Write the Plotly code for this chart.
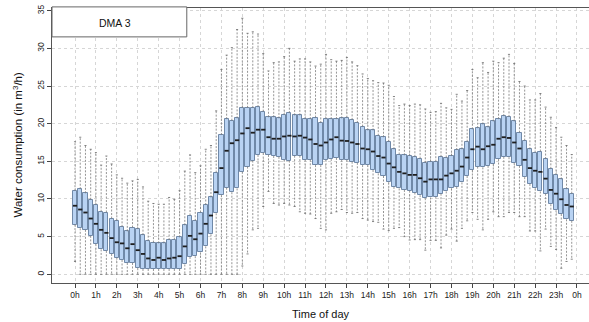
import numpy as np
import plotly.graph_objects as go

# Hour tick labels (0h .. 23h, 0h) and 15-minute slots
hour_labels = [f"{h}h" for h in range(24)] + ["0h"]

q3 = [11.1, 11.3, 10.75, 9.9, 9.2, 8.3, 8.2, 7.4, 7.1, 6.3, 5.7, 6.2, 6.0, 5.2, 4.4, 4.2,
      4.1, 4.1, 4.55, 4.6, 4.9, 6.5, 7.8, 7.1, 8.2, 9.2, 10.2, 13.5, 18.5, 20.6, 20.4, 20.7,
      22.1, 22.1, 22.1, 22.2, 21.6, 20.85, 20.85, 20.7, 21.15, 21.4, 21.1, 21.1, 20.6, 20.6, 20.8, 20.1,
      20.6, 20.6, 20.6, 20.7, 20.8, 20.5, 20.1, 19.6, 19.1, 19.1, 18.4, 18.2, 17.6, 16.6, 15.9, 15.8,
      15.7, 15.6, 15.35, 14.8, 14.95, 14.95, 15.6, 15.5, 15.7, 16.5, 16.6, 17.6, 19.25, 19.4, 19.9, 19.5,
      20.3, 20.6, 21.0, 20.9, 20.3, 18.8, 17.75, 16.6, 16.15, 16.3, 15.3, 14.0, 13.2, 12.6, 11.3, 10.7]
median = [9.1, 8.6, 8.2, 7.4, 6.7, 5.9, 5.5, 4.8, 4.25, 4.1, 3.45, 4.0, 3.2, 2.7, 2.1, 1.9,
          2.2, 1.9, 2.1, 2.2, 2.4, 3.7, 5.1, 4.65, 5.4, 6.7, 7.8, 10.9, 14.1, 16.4, 17.4, 17.8,
          18.7, 19.4, 18.8, 19.2, 19.2, 18.2, 18.0, 18.0, 18.3, 18.4, 18.3, 18.4, 18.15, 17.9, 17.3, 17.1,
          17.5, 17.9, 18.2, 17.75, 17.7, 17.5, 17.3, 16.7, 16.6, 16.3, 15.7, 15.5, 14.7, 14.2, 13.6, 13.4,
          13.2, 13.2, 12.75, 12.3, 12.6, 12.6, 12.6, 13.1, 13.4, 13.75, 14.3, 15.5, 16.6, 16.95, 16.6, 17.0,
          17.2, 18.0, 18.2, 18.1, 17.5, 16.7, 15.2, 14.1, 13.75, 13.6, 12.7, 11.2, 10.7, 9.96, 9.2, 9.0]
q1 = [6.6, 6.1, 5.9, 5.1, 4.0, 3.3, 3.1, 2.7, 2.2, 1.9, 1.5, 1.5, 0.8, 0.7, 0.7, 0.7,
      0.7, 0.7, 0.7, 0.7, 0.7, 1.3, 2.3, 2.4, 2.9, 3.7, 5.3, 8.1, 10.5, 11.5, 10.9, 11.4,
      13.6, 14.3, 15.1, 15.85, 16.1, 15.85, 15.7, 15.6, 15.2, 15.1, 15.75, 15.75, 15.2, 15.2, 14.5, 14.5,
      15.2, 15.3, 15.45, 15.2, 15.2, 14.95, 14.8, 14.5, 14.5, 13.85, 13.4, 13.05, 12.2, 11.6, 11.4, 11.2,
      11.1, 10.85, 10.5, 10.1, 10.2, 10.3, 10.7, 11.0, 11.4, 11.6, 12.2, 13.05, 13.85, 14.3, 14.2, 14.4,
      14.65, 15.3, 15.6, 15.55, 14.8, 14.4, 12.9, 12.0, 11.4, 11.0, 10.7, 9.3, 8.5, 8.0, 7.3, 7.1]
whisker_hi = [17.6, 18.2, 17.1, 16.6, 16.15, 14.5, 15.7, 14.65, 13.2, 12.75, 12.1, 12.4, 12.6, 11.6, 9.7, 9.4,
              9.3, 9.3, 10.2, 9.95, 11.1, 13.7, 15.85, 13.5, 14.4, 16.6, 17.1, 21.7, 27.2, 29.1, 30.1, 32.5,
              34.0, 32.0, 32.2, 31.9, 29.3, 27.0, 28.1, 28.2, 28.9, 30.0, 28.3, 28.6, 28.6, 28.2, 27.65, 27.9,
              29.2, 28.5, 28.3, 28.4, 28.8, 28.2, 27.7, 26.6, 26.0, 25.7, 25.45, 25.4, 25.1, 23.6, 22.4, 22.6,
              22.4, 22.6, 22.5, 21.95, 21.5, 21.6, 22.7, 22.1, 21.9, 23.9, 23.0, 24.4, 27.2, 26.1, 28.1, 26.8,
              28.3, 28.1, 28.7, 29.2, 28.0, 25.6, 25.0, 23.15, 23.15, 24.0, 22.2, 20.85, 19.5, 18.2, 17.1, 15.9]
whisker_lo = [1.7, 0, 0, 0, 0, 0, 0, 0, 0, 0, 0, 0, 0, 0, 0, 0,
              0, 0, 0, 0, 0, 0, 0, 0, 0, 0, 0, 0, 0, 0, 0, 0,
              1.1, 2.7, 5.9, 6.1, 9.0, 11.0, 9.4, 9.2, 9.4, 9.2, 9.0, 8.3, 8.1, 8.0, 7.4, 6.1,
              5.9, 8.1, 8.3, 8.6, 8.2, 8.1, 8.2, 7.4, 7.2, 7.0, 6.9, 6.0, 5.8, 6.1, 6.2, 5.0,
              4.55, 4.6, 4.6, 3.2, 4.5, 4.5, 3.5, 5.2, 6.0, 4.4, 6.1, 7.1, 8.2, 7.3, 5.9, 7.3,
              8.3, 7.65, 7.65, 8.2, 8.2, 7.65, 7.65, 5.75, 5.75, 3.1, 6.0, 3.7, 3.3, 0.8, 1.7, 2.0]

n = len(median)
pos = np.arange(1, n + 1)          # slot positions 1..96
tick_pos = np.arange(1, n + 2, 4)  # hour ticks 1, 5, ..., 97

BOXW = 0.8
CAPW = 0.2

def segs(xs_a, xs_b, ys_a, ys_b):
    X, Y = [], []
    for xa, xb, ya, yb in zip(xs_a, xs_b, ys_a, ys_b):
        X += [xa, xb, None]
        Y += [ya, yb, None]
    return X, Y

fig = go.Figure()

# whiskers (dashed)
wx, wy = segs(pos, pos, q3, whisker_hi)
wx2, wy2 = segs(pos, pos, q1, whisker_lo)
fig.add_trace(go.Scatter(x=wx + wx2, y=wy + wy2, mode="lines",
                         line=dict(color="#7a7a7a", width=0.8, dash="2px,1.5px"),
                         hoverinfo="skip", showlegend=False))
# caps
cx, cy = segs(pos - CAPW, pos + CAPW, whisker_hi, whisker_hi)
cx2, cy2 = segs(pos - CAPW, pos + CAPW, whisker_lo, whisker_lo)
fig.add_trace(go.Scatter(x=cx + cx2, y=cy + cy2, mode="lines",
                         line=dict(color="#666666", width=0.8),
                         hoverinfo="skip", showlegend=False))
# boxes
fig.add_trace(go.Bar(x=pos, y=np.array(q3) - np.array(q1), base=q1, width=BOXW,
                     marker=dict(color="#b9d3f3", line=dict(color="#7089a8", width=1)),
                     hoverinfo="skip", showlegend=False))
# medians
mx, my = segs(pos - BOXW / 2, pos + BOXW / 2, median, median)
fig.add_trace(go.Scatter(x=mx, y=my, mode="lines",
                         line=dict(color="#1e1e1e", width=1.8),
                         hoverinfo="skip", showlegend=False))

font = "Liberation Sans, Arial, sans-serif"
grid = dict(showgrid=True, gridcolor="#d6d6d6", griddash="dot", gridwidth=1)

fig.update_layout(
    width=589, height=322,
    margin=dict(l=52, r=0, t=8, b=39, autoexpand=False),
    plot_bgcolor="white", paper_bgcolor="white",
    font=dict(family=font, size=8.5, color="#222"),
    bargap=0,
    xaxis=dict(range=[-3.4, 99.3], tickmode="array", tickvals=tick_pos, ticktext=hour_labels,
               ticks="outside", ticklen=4, tickcolor="#444", showline=True, linecolor="#555",
               mirror=True, zeroline=False, tickfont=dict(size=8.5), automargin=False, **grid),
    yaxis=dict(range=[-1.16, 35.36], tickmode="array", tickvals=list(range(0, 36, 5)),
               ticks="outside", ticklen=4, tickcolor="#444", showline=True, linecolor="#555",
               mirror=True, zeroline=False, tickangle=-90, tickfont=dict(size=8.5),
               automargin=False, **grid),
)

# axis titles
fig.add_annotation(text="Time of day", xref="paper", yref="paper", x=0.5, y=-31 / 275,
                   xanchor="center", yanchor="middle", showarrow=False,
                   font=dict(size=11, color="#111"))
fig.add_annotation(text="Water consumption (in m<sup>3</sup>/h)", xref="paper", yref="paper",
                   x=-35 / 537, y=0.5, xanchor="center", yanchor="middle", textangle=-90,
                   showarrow=False, font=dict(size=11.5, color="#111"))

fig.add_shape(type="rect", xref="paper", yref="paper", x0=0, x1=0.251, y0=0.895, y1=1.004,
              line=dict(color="#666", width=1), fillcolor="white", layer="above")
fig.add_annotation(text="DMA 3", xref="paper", yref="paper", x=0.118, y=0.945,
                   xanchor="center", yanchor="middle",
                   showarrow=False, font=dict(size=10.5, color="#111"))

fig.write_html("out.html", config={"displayModeBar": False},
               post_script="document.body.style.margin='0';document.body.style.overflow='hidden';")
